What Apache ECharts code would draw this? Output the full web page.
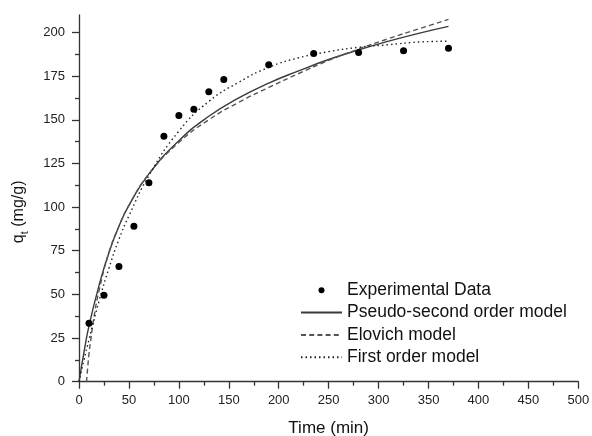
<!DOCTYPE html>
<html>
<head>
<meta charset="utf-8">
<script src="https://cdn.jsdelivr.net/npm/echarts@6/dist/echarts.min.js"></script>
<style>html,body{margin:0;padding:0;background:#fff}#c{width:592px;height:436px}</style>
</head>
<body>
<div id="c"></div>
<script>
// Experimental data
var timeExp = [10, 25, 40, 55, 70, 85, 100, 115, 130, 145, 190, 235, 280, 325, 370];
var qExp = [33.5, 49.5, 66, 89, 114, 140.5, 152.5, 156, 166, 173, 181.5, 188, 188.5, 189.5, 191];
// Model curves
var timeModel = [0, 5, 10, 20, 30, 40, 50, 70, 100, 130, 160, 190, 220, 250, 280, 310, 340, 370];
var qPseudoSecond = [0, 17, 32, 55, 74, 89, 101, 119, 138, 152, 162.5, 171, 178, 184.5, 190, 195, 199.5, 203.5];
var qFirstOrder = [0, 12.5, 24, 46, 65, 81.5, 95, 118, 143.5, 160.5, 171.5, 180, 185.5, 189, 191.5, 193, 194.5, 195];
var timeElovich = [7.5, 9, 10, 12, 15, 20, 30, 40, 50, 70, 100, 130, 160, 190, 220, 250, 280, 310, 340, 370];
var qElovich = [0, 10, 16, 25, 37, 52, 74, 89, 101, 119, 137, 150, 160, 168.5, 176.5, 184, 190.5, 196.5, 202, 207.5];
// Axis ticks
var yTicks = [0, 25, 50, 75, 100, 125, 150, 175, 200];
var yMinorTicks = [12.5, 37.5, 62.5, 87.5, 112.5, 137.5, 162.5, 187.5];
var seriesNames = ['Experimental Data', 'Pseudo-second order model', 'Elovich model', 'First order model'];

function pairs(xs, ys) { return xs.map(function (x, i) { return [x, ys[i]]; }); }

var chart = echarts.init(document.getElementById('c'), null, { renderer: 'canvas' });
var axisCol = '#333';
var font = 'Liberation Sans, Arial, sans-serif';
var hiddenSym = { opacity: 0 };
var option = {
  animation: false,
  backgroundColor: '#fff',
  textStyle: { fontFamily: font },
  grid: { left: 79, right: 13.7, top: 15, bottom: 54.3, containLabel: false, outerBoundsMode: 'none' },
  legend: {
    orient: 'vertical', left: 300, top: 280.3, padding: 0,
    itemWidth: 41, itemHeight: 6, itemGap: 2.3, itemTextGap: 6,
    textStyle: { fontSize: 17.5, color: '#111', fontFamily: font, lineHeight: 20 },
    data: [
      { name: seriesNames[0], itemStyle: { color: '#000', opacity: 1 } },
      { name: seriesNames[1], itemStyle: hiddenSym },
      { name: seriesNames[2], itemStyle: hiddenSym },
      { name: seriesNames[3], itemStyle: hiddenSym }
    ]
  },
  xAxis: {
    type: 'value', min: 0, max: 500, interval: 50,
    name: 'Time (min)', nameLocation: 'middle', nameGap: 38.5,
    nameTextStyle: { fontSize: 17, color: '#111', fontFamily: font },
    axisLine: { onZero: false, lineStyle: { color: axisCol, width: 1.3 } },
    axisTick: { show: true, length: 7, lineStyle: { color: axisCol, width: 1.3 } },
    minorTick: { show: true, splitNumber: 2, length: 4, lineStyle: { color: axisCol, width: 1.3 } },
    axisLabel: { fontSize: 13, color: '#222', margin: 12, fontFamily: font },
    splitLine: { show: false }, minorSplitLine: { show: false }
  },
  yAxis: [{
    type: 'value', min: 0, max: 210, interval: 25,
    name: '{a|q}{b|t}{a| (mg/g)}', nameLocation: 'middle', nameGap: 49,
    nameTextStyle: {
      color: '#111', fontFamily: font, padding: [0, 27, 0, 0],
      rich: {
        a: { fontSize: 16, lineHeight: 22, color: '#111', fontFamily: font },
        b: { fontSize: 11, lineHeight: 11, verticalAlign: 'bottom', color: '#111', fontFamily: font }
      }
    },
    axisLine: { onZero: false, lineStyle: { color: axisCol, width: 1.3 } },
    axisTick: { show: true, length: 7, customValues: yTicks, lineStyle: { color: axisCol, width: 1.3 } },
    axisLabel: { fontSize: 13, color: '#222', margin: 14, customValues: yTicks, fontFamily: font },
    splitLine: { show: false }
  }, {
    type: 'value', min: 0, max: 210, position: 'left',
    axisLine: { show: false },
    axisTick: { show: true, length: 4, customValues: yMinorTicks, lineStyle: { color: axisCol, width: 1.3 } },
    axisLabel: { show: false },
    splitLine: { show: false }
  }],
  series: [{
    name: seriesNames[0], type: 'scatter', symbol: 'circle', symbolSize: 7,
    itemStyle: { color: '#000', opacity: 1 }, data: pairs(timeExp, qExp), z: 5
  }, {
    name: seriesNames[1], type: 'line', showSymbol: false, symbol: 'none', smooth: 0.5,
    lineStyle: { color: '#3a3a3a', width: 1.4, type: 'solid' }, itemStyle: { color: '#3a3a3a', opacity: 0 },
    data: pairs(timeModel, qPseudoSecond)
  }, {
    name: seriesNames[2], type: 'line', showSymbol: false, symbol: 'none', smooth: 0.5,
    lineStyle: { color: '#555', width: 1.4, type: [5, 3.2] }, itemStyle: { color: '#555', opacity: 0 },
    data: pairs(timeElovich, qElovich)
  }, {
    name: seriesNames[3], type: 'line', showSymbol: false, symbol: 'none', smooth: 0.5,
    lineStyle: { color: '#222', width: 1.4, type: [1.5, 3] }, itemStyle: { color: '#222', opacity: 0 },
    data: pairs(timeModel, qFirstOrder)
  }]
};
chart.setOption(option);
</script>
</body>
</html>
